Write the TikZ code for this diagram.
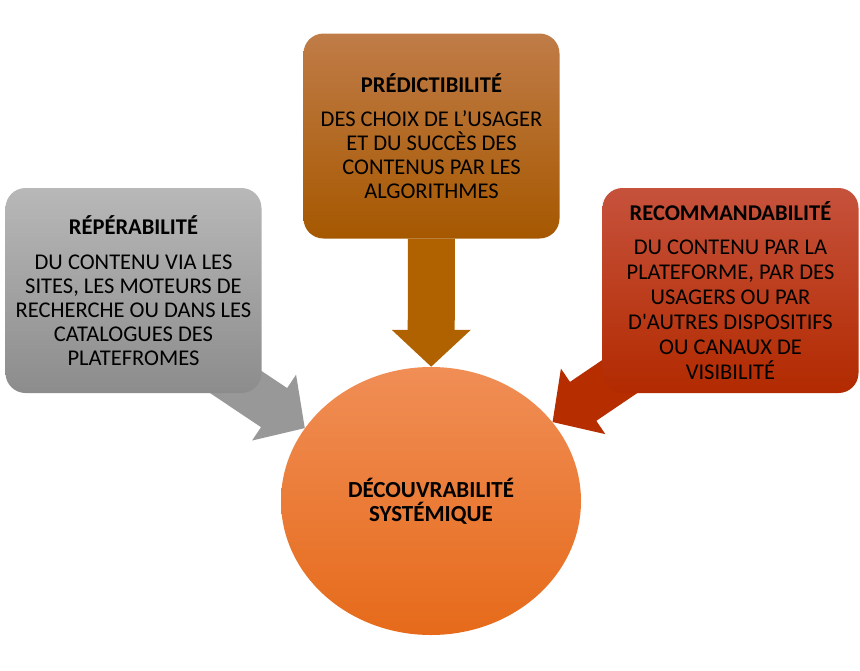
\documentclass[tikz,border=0pt]{standalone}
\usepackage{fontspec}
\newfontfamily\calibri{Carlito}
\usetikzlibrary{shapes.geometric,arrows.meta,backgrounds}
\definecolor{grisH}{RGB}{184,184,184}
\definecolor{grisB}{RGB}{140,140,140}
\definecolor{grisF}{RGB}{152,152,152}
\definecolor{brunH}{RGB}{192,124,72}
\definecolor{brunM}{RGB}{184,106,20}
\definecolor{brunB}{RGB}{166,88,0}
\definecolor{brunF}{RGB}{176,98,0}
\definecolor{rougeH}{RGB}{198,82,60}
\definecolor{rougeM}{RGB}{190,58,20}
\definecolor{rougeB}{RGB}{178,42,0}
\definecolor{rougeF}{RGB}{182,45,0}
\definecolor{orH}{RGB}{240,142,86}
\definecolor{orM}{RGB}{240,124,48}
\definecolor{orB}{RGB}{230,106,26}

\begin{document}
\begin{tikzpicture}[x=1pt,y=-1pt,
  boite/.style={rounded corners=20pt,minimum width=256pt,minimum height=205pt,inner sep=0pt,align=center,font=\calibri\fontsize{22.5}{24}\selectfont},
  fleche/.style={line width=47pt,-{Triangle[width=77pt,length=37pt]}}]
\useasboundingbox (0,0) rectangle (860,670);
\node[boite,top color=grisH,bottom color=grisB](rep)at(133.5,290.5){{\bfseries RÉPÉRABILITÉ}\\[10.7pt]DU CONTENU VIA LES\\SITES, LES MOTEURS DE\\RECHERCHE OU DANS LES\\CATALOGUES DES\\PLATEFROMES};
\node[boite,top color=brunH,middle color=brunM,bottom color=brunB](pred)at(431.5,136){{\bfseries PRÉDICTIBILITÉ}\\[10.4pt]DES CHOIX DE L’USAGER\\ET DU SUCCÈS DES\\CONTENUS PAR LES\\ALGORITHMES};
\node[boite,top color=rougeH,middle color=rougeM,bottom color=rougeB,font=\calibri\fontsize{22.5}{25}\selectfont](rec)at(730.5,290.5){{\bfseries RECOMMANDABILITÉ}\\[9pt]DU CONTENU PAR LA\\PLATEFORME, PAR DES\\USAGERS OU PAR\\D'AUTRES DISPOSITIFS\\OU CANAUX DE\\VISIBILITÉ};
\node[ellipse,minimum width=300pt,minimum height=268pt,inner sep=0pt,top color=orH,middle color=orM,bottom color=orB,align=center,font=\calibri\bfseries\fontsize{23}{24.3}\selectfont](dec)at(431,501){DÉCOUVRABILITÉ\\SYSTÉMIQUE};
\coordinate(reptail)at(140,318);
\coordinate(rectail)at(718,310);
\begin{scope}[on background layer]
\draw[fleche,grisF](reptail)--(dec.150.4);
\draw[fleche,brunF](pred)--(dec);
\draw[fleche,rougeF](rectail)--(dec.33.1);
\end{scope}
\end{tikzpicture}
\end{document}
